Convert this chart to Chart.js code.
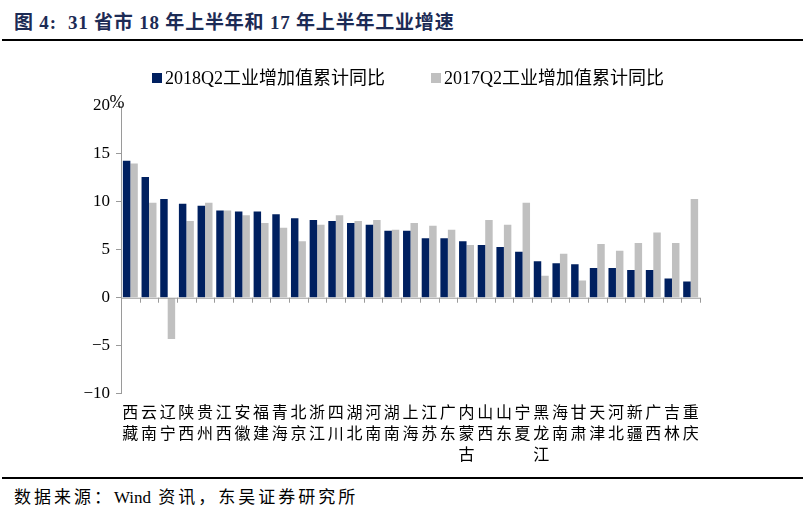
<!DOCTYPE html>
<html>
<head>
<meta charset="utf-8">
<script src="https://cdn.jsdelivr.net/npm/chart.js@4.4.0/dist/chart.umd.min.js"></script>
<style>
  body { margin: 0; background: #fff; width: 806px; height: 517px; position: relative; overflow: hidden; }
  #title { position: absolute; left: 14px; top: 7px; font: bold 19px "Liberation Serif", "Noto Sans CJK SC", serif; color: #1c2b55; letter-spacing: 0.8px; }
  .rule { position: absolute; left: 2px; width: 801px; height: 2px; background: #000; }
  #source { position: absolute; left: 14px; top: 483px; font: 17px "Liberation Serif", "Noto Sans CJK SC", serif; color: #000; letter-spacing: 3px; }
  #wrap { position: absolute; left: 0; top: 20px; width: 806px; height: 450px; }
</style>
</head>
<body>
<div id="title">图 4:&nbsp; 31 省市 18 年上半年和 17 年上半年工业增速</div>
<div class="rule" style="top:39px"></div>
<div id="wrap"><canvas id="chart"></canvas></div>
<div class="rule" style="top:477px"></div>
<div id="source">数据来源：<span style="letter-spacing:0">Wind</span> 资讯，东吴证券研究所</div>
<script>
// provinces, sorted by 2018 growth
const provinces = ['西藏','云南','辽宁','陕西','贵州','江西','安徽','福建','青海','北京','浙江','四川','湖北','河南','湖南',
                   '上海','江苏','广东','内蒙古','山西','山东','宁夏','黑龙江','海南','甘肃','天津','河北','新疆','广西','吉林','重庆'];
const growth2018 = [14.3, 12.6, 10.3, 9.8, 9.6, 9.1, 9.0, 9.0, 8.7, 8.3, 8.1, 8.0, 7.8, 7.6, 7.0,
                    7.0, 6.2, 6.2, 5.9, 5.5, 5.3, 4.8, 3.8, 3.6, 3.5, 3.1, 3.1, 2.9, 2.9, 2.0, 1.7];
const growth2017 = [14.0, 9.9, -4.3, 8.0, 9.9, 9.1, 8.6, 7.8, 7.3, 5.9, 7.6, 8.6, 8.0, 8.1, 7.1,
                    7.8, 7.5, 7.1, 5.5, 8.1, 7.6, 9.9, 2.3, 4.6, 1.8, 5.6, 4.9, 5.7, 6.8, 5.7, 10.3];
const yTicks = [-10, -5, 0, 5, 10, 15, 20];

const serif = "'Liberation Serif', 'Noto Sans CJK SC', serif";
const axisGray = '#9a9a9a';

// legend drawn in one row above the plot, starting near the axis
const topLegend = {
    id: 'topLegend',
    afterDraw(chart) {
        const ctx = chart.ctx;
        let px = chart.chartArea.left + 31;
        const py = chart.chartArea.top - 28;
        ctx.save();
        ctx.font = '18px ' + serif;
        ctx.textBaseline = 'middle';
        ctx.fillStyle = '#000';
        chart.data.datasets.forEach(ds => {
            ctx.fillStyle = ds.backgroundColor;
            ctx.fillRect(px, py - 5, 10, 10);
            ctx.fillStyle = '#000';
            ctx.fillText(ds.label, px + 13, py + 1);
            px += 13 + ctx.measureText(ds.label).width + 46;
        });
        ctx.restore();
    }
};

// zero line with category tick marks, plus the "%" unit label
const zeroAxisPlugin = {
    id: 'zeroAxis',
    afterDatasetsDraw(chart) {
        const ctx = chart.ctx;
        const x = chart.scales.x;
        const y = chart.scales.y;
        const y0 = y.getPixelForValue(0);
        const step = (x.right - x.left) / provinces.length;
        ctx.save();
        ctx.strokeStyle = axisGray;
        ctx.lineWidth = 1;
        ctx.beginPath();
        ctx.moveTo(x.left, y0 + 0.5);
        ctx.lineTo(x.right, y0 + 0.5);
        for (let i = 0; i <= provinces.length; i++) {
            const px = Math.round(x.left + i * step) + 0.5;
            ctx.moveTo(px, y0);
            ctx.lineTo(px, y0 + 5);
        }
        ctx.stroke();
        ctx.fillStyle = '#000';
        ctx.font = '18px ' + serif;
        ctx.textAlign = 'center';
        ctx.textBaseline = 'bottom';
        ctx.fillText('%', x.left - 4, y.top + 6);
        ctx.restore();
    }
};

new Chart(document.getElementById('chart'), {
    type: 'bar',
    data: {
        labels: provinces.map(p => p.split('')),
        datasets: [
            { label: '2018Q2工业增加值累计同比', data: growth2018, backgroundColor: '#002060' },
            { label: '2017Q2工业增加值累计同比', data: growth2017, backgroundColor: '#c0c0c0' }
        ]
    },
    options: {
        responsive: true,
        maintainAspectRatio: false,
        animation: false,
        layout: { padding: { left: 50, right: 106, top: 86, bottom: 6 } },
        datasets: { bar: { categoryPercentage: 0.8, barPercentage: 1.0 } },
        plugins: {
            legend: { display: false },
            tooltip: { enabled: false }
        },
        scales: {
            x: {
                grid: { display: false },
                border: { display: false },
                ticks: {
                    autoSkip: false, maxRotation: 0, minRotation: 0, padding: 0,
                    color: '#000', font: { family: "'Noto Sans CJK SC', sans-serif", size: 16, lineHeight: 1.3 }
                }
            },
            y: {
                min: -10, max: 20,
                afterBuildTicks: axis => { axis.ticks = yTicks.map(v => ({ value: v })); },
                afterFit: axis => { axis.width = 71; },
                grid: { drawOnChartArea: false, drawTicks: true, tickLength: 5, color: axisGray },
                border: { color: axisGray },
                ticks: {
                    padding: 6, color: '#000', font: { family: serif, size: 17 },
                    callback: v => String(v).replace('-', '−')
                }
            }
        }
    },
    plugins: [topLegend, zeroAxisPlugin]
});
</script>
</body>
</html>
